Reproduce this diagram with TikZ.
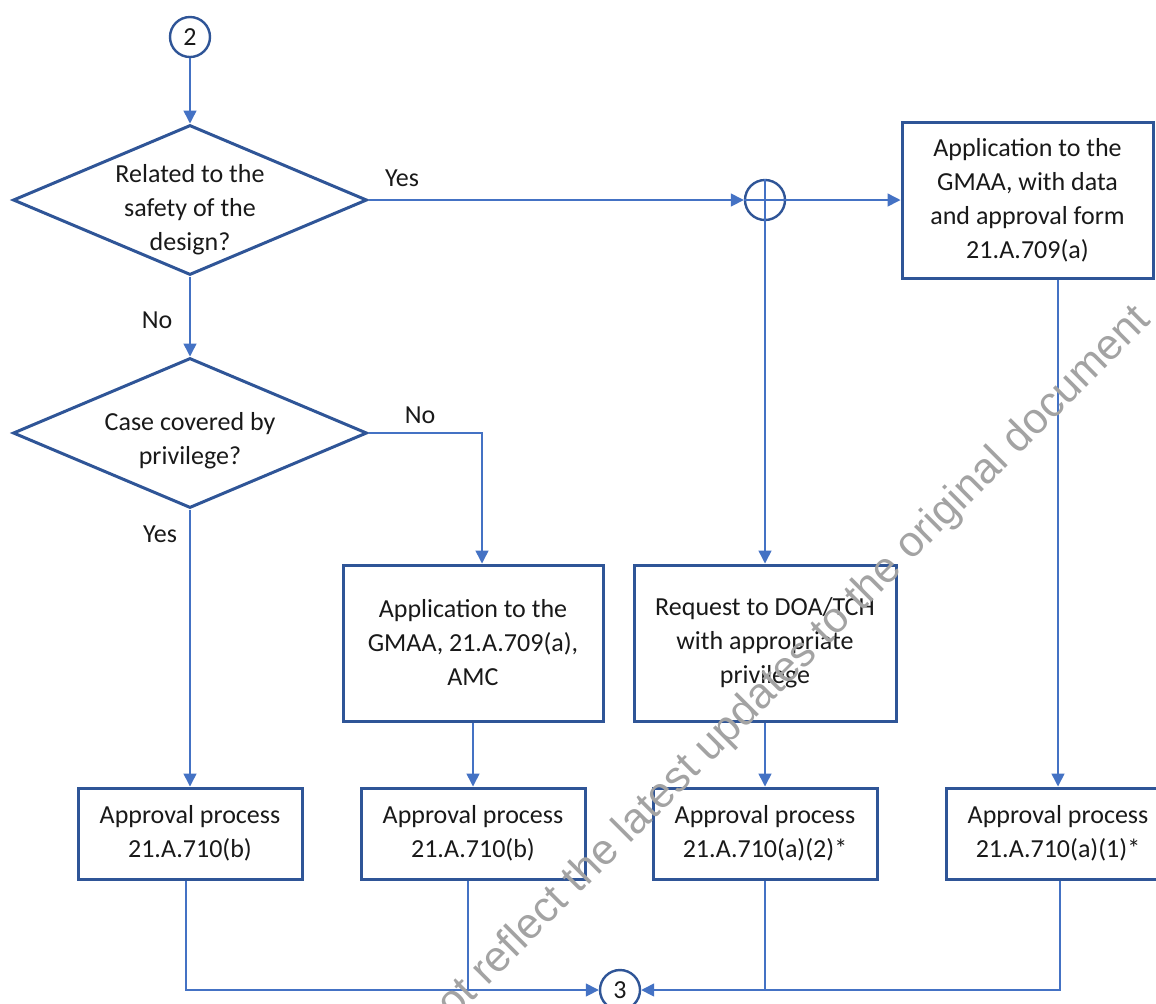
\documentclass[tikz,border=0pt]{standalone}
\usepackage{fontspec}
\setmainfont{Carlito}
\newfontfamily\markfont{Liberation Sans}
\usetikzlibrary{arrows.meta,shapes.geometric}
\definecolor{edgeblue}{RGB}{47,85,151}
\definecolor{lineblue}{RGB}{68,114,196}
\definecolor{inkgrey}{RGB}{25,25,25}

\begin{document}
\begin{tikzpicture}[x=0.5pt,y=-0.5pt,>={Triangle[length=6.5pt,width=6.5pt]},
    font=\fontsize{13}{17}\selectfont,text=inkgrey,
    conn/.style={circle,draw=edgeblue,line width=1.2pt,minimum size=20pt,inner sep=0pt},
    decision/.style={diamond,draw=edgeblue,line width=1.5pt,minimum width=177pt,minimum height=75pt,inner sep=0pt},
    qtext/.style={align=center},
    procbox/.style={rectangle,draw=edgeblue,line width=1.5pt,align=center,inner sep=0pt},
    apbox/.style={procbox,minimum width=112pt,minimum height=45.5pt},
    flow/.style={color=lineblue,line width=0.75pt}]
  \useasboundingbox (0,0) rectangle (1156,1003);
  \clip (0,0) rectangle (1156,1003);

  \node[conn] (con_2) at (190,37) {2};
  \node[decision,label={[qtext,yshift=-5pt]center:Related to the\\safety of the\\design?}] (dec_1) at (190,200) {};
  \node[decision,label={[qtext,yshift=-4pt]center:Case covered by\\privilege?}] (dec_2) at (190,433) {};
  \node[conn] (join) at (765,200) {};
  \node[procbox,minimum width=125.5pt,minimum height=78pt] (app_data) at (1027.5,200) {Application to the\\GMAA, with data\\and approval form\\21.A.709(a)};
  \node[procbox,minimum width=130pt,minimum height=78pt] (app_amc) at (473,643) {Application to the\\GMAA, 21.A.709(a),\\AMC};
  \node[procbox,minimum width=131pt,minimum height=78pt] (req) at (765,643) {Request to DOA/TCH\\with appropriate\\privilege};
  \node[apbox] (ap_b1) at (190,833.5) {Approval process\\21.A.710(b)};
  \node[apbox] (ap_b2) at (473,833.5) {Approval process\\21.A.710(b)};
  \node[apbox] (ap_a2) at (765,833.5) {Approval process\\21.A.710(a)(2)*};
  \node[apbox] (ap_a1) at (1058,833.5) {Approval process\\21.A.710(a)(1)*};
  \node[conn] (con_3) at (620,990) {3};

  \node (yes_1) at (402,178) {Yes};
  \node (no_1) at (157,320) {No};
  \node (no_2) at (420,415) {No};
  \node (yes_2) at (160,534) {Yes};

  \path[flow,->]
  (con_2) edge (dec_1)
  (dec_1) edge (dec_2)
  (dec_1.east) edge (join.west)
  (join.west) edge (app_data.west)
  (join.north) edge (req.north)
  (dec_2) edge (ap_b1)
  (app_amc) edge (ap_b2)
  (req) edge (ap_a2)
  (ap_a1.north |- app_data.south) edge (ap_a1);

  \draw[flow,->] (dec_2.east) -| ([xshift=4.5pt]app_amc.north);
  \draw[flow,->] ([xshift=-2pt]ap_b1.south) |- (con_3.west);
  \draw[flow] ([xshift=-2.5pt]ap_b2.south) -- ([xshift=-2.5pt]ap_b2.south |- con_3);
  \draw[flow,->] ([xshift=1pt]ap_a1.south) |- (con_3.east);
  \draw[flow] (ap_a2.south) -- (ap_a2.south |- con_3);

  \node[rotate=45,text=gray!72,font=\markfont\fontsize{21.5}{26}\selectfont] (mark) at (795,663) {ot reflect the latest updates to the original document};
\end{tikzpicture}
\end{document}
